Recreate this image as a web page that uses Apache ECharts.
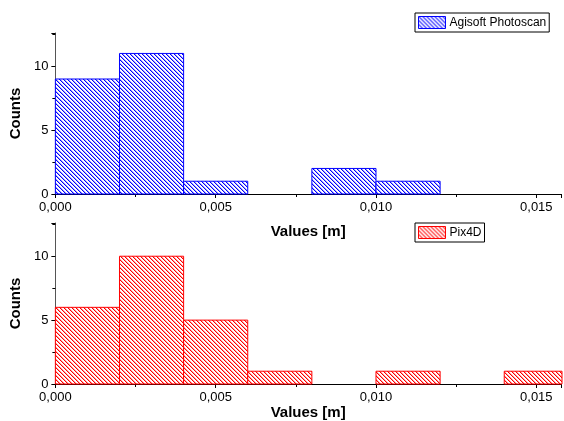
<!DOCTYPE html>
<html>
<head>
<meta charset="utf-8">
<script src="https://cdn.jsdelivr.net/npm/echarts@6/dist/echarts.min.js"></script>
<style>
  html, body { margin: 0; padding: 0; background: #fff; }
  #chart { width: 564px; height: 421px; }
</style>
</head>
<body>
<div id="chart"></div>
<script>
// Histogram bins (left edges, metres) and bin width
const binStarts = [0.000, 0.002, 0.004, 0.006, 0.008, 0.010, 0.012, 0.014];
const binWidth = 0.002;
// Counts per bin for each software
const agisoftCounts = [9, 11, 1, 0, 2, 1, 0, 0];
const pix4dCounts = [6, 10, 5, 1, 0, 1, 0, 1];
// Axis tick values
const xTicks = [0.000, 0.005, 0.010, 0.015];
const yTicks = [0, 5, 10];

const FONT = 'Liberation Sans, Arial, sans-serif';

// Crisp diagonal hatch ("\\\\") built pixel by pixel on a 4x4 tile:
// one solid pixel per row plus a softer neighbour
function hatch(color, soft) {
  const s = 4;
  const c = document.createElement('canvas');
  c.width = s; c.height = s;
  const g = c.getContext('2d');
  g.fillStyle = '#fff';
  g.fillRect(0, 0, s, s);
  for (let y = 0; y < s; y++) {
    g.fillStyle = color;
    g.fillRect(y % s, y, 1, 1);
    g.fillStyle = soft;
    g.fillRect((y + 1) % s, y, 1, 1);
  }
  return { image: c, repeat: 'repeat' };
}

function binData(counts) {
  const out = [];
  binStarts.forEach((b, i) => {
    if (counts[i] > 0) out.push([b, b + binWidth, counts[i]]);
  });
  return out;
}

function makeRender(color, soft) {
  const pat = hatch(color, soft);
  return function (params, api) {
    const p0 = api.coord([api.value(0), 0]);
    const p1 = api.coord([api.value(1), api.value(2)]);
    const cs = params.coordSys;
    const rect = echarts.graphic.clipRectByRect(
      { x: p0[0], y: p1[1], width: p1[0] - p0[0], height: p0[1] - p1[1] },
      { x: cs.x, y: cs.y - 1, width: cs.width + 1, height: cs.height + 2 }
    );
    if (!rect) return null;
    return {
      type: 'rect',
      shape: rect,
      style: { fill: pat, stroke: color, lineWidth: 1 }
    };
  };
}

const fmtX = v => v.toFixed(3).replace('.', ',');

function xAxis(gridIndex, nameGap) {
  return {
    type: 'value', gridIndex,
    min: 0, max: 0.01577, interval: 0.005,
    name: 'Values [m]', nameLocation: 'middle', nameGap,
    nameTextStyle: { fontFamily: FONT, fontSize: 15, fontWeight: 'bold', color: '#000' },
    axisLine: { show: true, onZero: false, lineStyle: { color: '#000', width: 1 } },
    axisTick: { show: true, inside: false, length: 4, lineStyle: { color: '#000' } },
    minorTick: { show: true, splitNumber: 2, length: 3, lineStyle: { color: '#000' } },
    axisLabel: {
      fontFamily: FONT, fontSize: 13, color: '#000', margin: 7,
      formatter: v => (xTicks.some(t => Math.abs(t - v) < 1e-9) ? fmtX(v) : '')
    },
    splitLine: { show: false }
  };
}

function yAxis(gridIndex) {
  return {
    type: 'value', gridIndex,
    min: 0, max: 12.6, interval: 5,
    name: 'Counts', nameLocation: 'middle', nameGap: 26,
    nameTextStyle: { fontFamily: FONT, fontSize: 15, fontWeight: 'bold', color: '#000' },
    axisLine: { show: true, lineStyle: { color: '#555', width: 1 } },
    axisTick: { show: true, inside: false, length: 4, lineStyle: { color: '#000' } },
    minorTick: { show: true, splitNumber: 2, length: 3, lineStyle: { color: '#000' } },
    axisLabel: {
      fontFamily: FONT, fontSize: 13, color: '#000', margin: 7,
      formatter: v => (yTicks.indexOf(v) >= 0 ? String(v) : '')
    },
    splitLine: { show: false }
  };
}

function legend(name, color, soft, top) {
  return {
    left: 415, top,
    orient: 'horizontal',
    padding: [3, 3, 3, 3],
    itemWidth: 27, itemHeight: 12, itemGap: 4,
    borderColor: '#000', borderWidth: 1, borderRadius: 0,
    backgroundColor: '#fff',
    textStyle: { fontFamily: FONT, fontSize: 12, color: '#000', padding: [0, 0, 0, -1] },
    data: [{ name, icon: 'rect', itemStyle: { color: hatch(color, soft), borderColor: color, borderWidth: 1 } }],
    selectedMode: false
  };
}

const chart = echarts.init(document.getElementById('chart'), null, { renderer: 'canvas' });
chart.setOption({
  backgroundColor: '#fff',
  animation: false,
  grid: [
    { left: 53, right: 0, top: 33, height: 161 },
    { left: 53, right: 0, top: 223, height: 161 }
  ],
  xAxis: [xAxis(0, 30), xAxis(1, 21)],
  yAxis: [yAxis(0), yAxis(1)],
  legend: [
    legend('Agisoft Photoscan', '#0000ff', '#a0a0ff', 13),
    legend('Pix4D', '#ff0000', '#ffa0a0', 223)
  ],
  series: [
    {
      name: 'Agisoft Photoscan', type: 'custom',
      xAxisIndex: 0, yAxisIndex: 0,
      itemStyle: { color: '#0000ff' },
      renderItem: makeRender('#0000ff', '#a0a0ff'),
      encode: { x: [0, 1], y: 2 },
      data: binData(agisoftCounts)
    },
    {
      name: 'Pix4D', type: 'custom',
      xAxisIndex: 1, yAxisIndex: 1,
      itemStyle: { color: '#ff0000' },
      renderItem: makeRender('#ff0000', '#ffa0a0'),
      encode: { x: [0, 1], y: 2 },
      data: binData(pix4dCounts)
    }
  ]
});
</script>
</body>
</html>
